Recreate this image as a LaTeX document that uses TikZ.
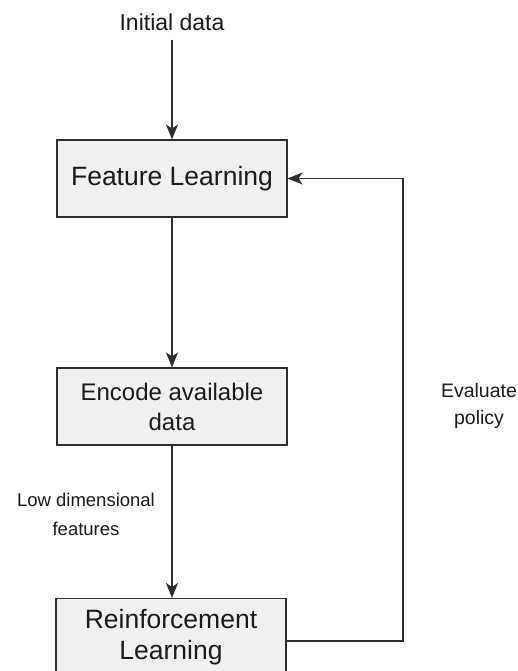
\documentclass[tikz,border=0pt]{standalone}
\usepackage{fontspec}
\setmainfont{Liberation Sans}
\usetikzlibrary{arrows.meta}
\definecolor{boxfill}{HTML}{F0F0F0}
\definecolor{ink}{HTML}{1A1A1A}
\definecolor{wire}{HTML}{2E2E2E}
\begin{document}
\begin{tikzpicture}[x=1pt,y=1pt,
  stage/.style={draw=wire,fill=boxfill,line width=1.1pt,minimum width=230pt,
    minimum height=77pt,inner sep=0pt,align=center,text=ink},
  flow/.style={draw=wire,line width=1.2pt,-{Stealth[length=15pt,width=12pt,inset=4pt]}},
  note/.style={align=center,text=ink,inner sep=0pt}]
\useasboundingbox (0,0) rectangle (518,-671);
\clip (0,0) rectangle (518,-671);

% process stages
\node[stage,font=\fontsize{26.5}{31}\selectfont] (fl) at (172,-178.5) {Feature Learning};
\node[stage,font=\fontsize{24}{30}\selectfont] (enc) at (172,-406.5) {Encode available\\data};
\node[stage,font=\fontsize{26.5}{31}\selectfont] (rl) at (171,-637) {Reinforcement\\Learning};

% labels
\node[note,font=\fontsize{23}{28}\selectfont] (init) at (172,-22) {Initial data};
\coordinate (src) at (172,-40);
\node[note,font=\fontsize{18.5}{29}\selectfont] (ldf) at (86,-514) {Low dimensional\\features};
\node[note,font=\fontsize{19.5}{27}\selectfont] (ev) at (479,-406) {Evaluate\\policy};
\coordinate (back) at (403,-641);

% connectors
\draw[flow] (src) -- (fl.north);
\draw[flow] (fl.south) -- (enc.north);
\draw[flow] (enc.south) -- (rl.north -| enc.south);
\draw[flow] (rl.east |- back) -- (back) |- (fl.east);
\end{tikzpicture}
\end{document}
